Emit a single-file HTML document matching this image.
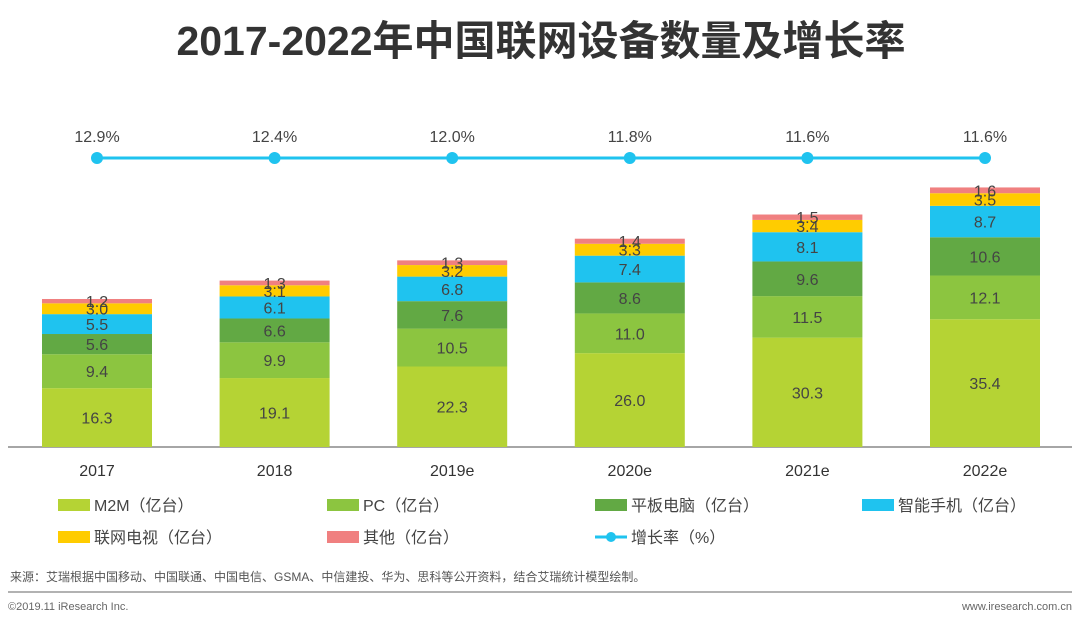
<!DOCTYPE html>
<html><head><meta charset="utf-8"><style>
body{margin:0;background:#fff;width:1080px;height:625px;overflow:hidden;font-family:"Liberation Sans","Noto Sans CJK SC",sans-serif}
svg text{font-family:"Liberation Sans","Noto Sans CJK SC",sans-serif}
</style></head><body>
<svg id="c" width="1080" height="625">
<text x="541" y="55" text-anchor="middle" font-size="41" font-weight="bold" fill="#333">2017-2022年中国联网设备数量及增长率</text>
<line x1="8" y1="447" x2="1072" y2="447" stroke="#a6a6a6" stroke-width="2"/>
<g id="bars"></g><g id="line"></g><g id="legend"></g>
<text x="10" y="581" font-size="12" fill="#555">来源：艾瑞根据中国移动、中国联通、中国电信、GSMA、中信建投、华为、思科等公开资料，结合艾瑞统计模型绘制。</text>
<line x1="8" y1="592" x2="1072" y2="592" stroke="#999" stroke-width="1.5"/>
<text x="8" y="610" font-size="11" fill="#666">©2019.11 iResearch Inc.</text>
<text x="1072" y="610" font-size="11" fill="#666" text-anchor="end">www.iresearch.com.cn</text>
</svg>
<script>
const categories=["2017","2018","2019e","2020e","2021e","2022e"];
const m2m=[16.3,19.1,22.3,26.0,30.3,35.4];
const pc=[9.4,9.9,10.5,11.0,11.5,12.1];
const tablet=[5.6,6.6,7.6,8.6,9.6,10.6];
const phone=[5.5,6.1,6.8,7.4,8.1,8.7];
const tv=[3.0,3.1,3.2,3.3,3.4,3.5];
const other=[1.2,1.3,1.3,1.4,1.5,1.6];
const growth=[12.9,12.4,12.0,11.8,11.6,11.6];
const seriesNames=["M2M（亿台）","PC（亿台）","平板电脑（亿台）","智能手机（亿台）","联网电视（亿台）","其他（亿台）"];
const series=[m2m,pc,tablet,phone,tv,other];
const colors=["#b5d334","#8cc540","#62a944","#1fc3ef","#ffcc00","#f08080"];
const ns="http://www.w3.org/2000/svg";
const base=447,k=3.61,bw=110;
const xc=i=>97+i*177.6;
const yv=v=>base-v*k;
const gy=v=>158-(v-11.6)*0;
function mk(t,a,p){const e=document.createElementNS(ns,t);for(const q in a)e.setAttribute(q,a[q]);p.appendChild(e);return e;}
const gb=document.getElementById('bars');
categories.forEach((c,i)=>{
  let cum=0;
  series.forEach((s,j)=>{
    const v=s[i];
    const r=mk('rect',{x:xc(i)-bw/2,y:yv(cum+v),width:bw,height:v*k,fill:colors[j]},gb);
    
    
    const t=mk('text',{x:xc(i),y:yv(cum+v/2)+6,'text-anchor':'middle','font-size':16,fill:'#444'},gb);
    t.textContent=v.toFixed(1);
    
    
    cum+=v;
  });
  const xl=mk('text',{x:xc(i),y:476,'text-anchor':'middle','font-size':16,fill:'#333'},gb);
  xl.textContent=c;
  
  
});
const gl=document.getElementById('line');
const pts=growth.map((g,i)=>xc(i)+','+gy(g)).join(' ');
const pl=mk('polyline',{points:pts,fill:'none',stroke:'#1fc3ef','stroke-width':3},gl);


growth.forEach((g,i)=>{
  const d=mk('circle',{cx:xc(i),cy:gy(g),r:6,fill:'#1fc3ef'},gl);
  
  
  const t=mk('text',{x:xc(i),y:gy(g)-16,'text-anchor':'middle','font-size':16,fill:'#444'},gl);
  t.textContent=g.toFixed(1)+'%';
  
  
});
const lg=document.getElementById('legend');
const lx=[58,327,595,862];
seriesNames.forEach((n,j)=>{
  const x=lx[j%4],y=j<4?505:537;
  const r=mk('rect',{x:x,y:y-6,width:32,height:12,fill:colors[j]},lg);
  
  
  const t=mk('text',{x:x+36,y:y+6,'font-size':16,fill:'#444'},lg);
  t.textContent=n;
  
  
});
const ll=mk('line',{x1:595,y1:537,x2:627,y2:537,stroke:'#1fc3ef','stroke-width':3},lg);


const lc=mk('circle',{cx:611,cy:537,r:5,fill:'#1fc3ef'},lg);


const lt=mk('text',{x:631,y:543,'font-size':16,fill:'#444'},lg);
lt.textContent='增长率（%）';


</script>
</body></html>
